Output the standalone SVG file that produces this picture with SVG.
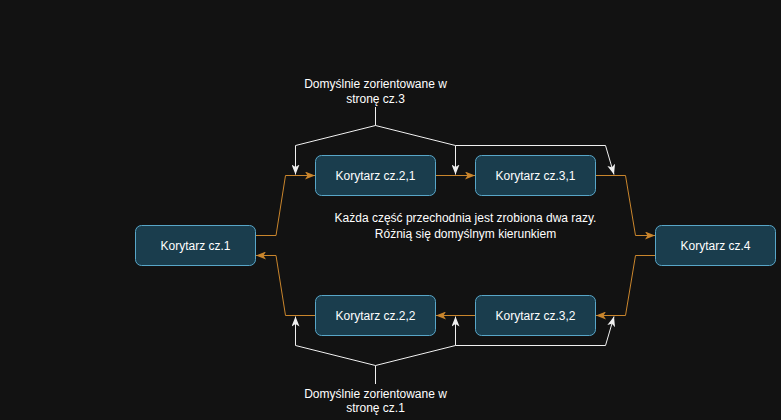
<svg xmlns="http://www.w3.org/2000/svg" width="781" height="420" viewBox="0 0 781 420">
<style>
.bg{fill:#121212}
.node rect{fill:#1a3d4d;stroke:#58a6c8;stroke-width:1}
.node text,.lbl{font-family:"Liberation Sans",Arial,sans-serif;font-size:12px;fill:#ffffff;text-anchor:middle}
.eo{fill:none;stroke:#c9852c;stroke-width:1}
.ew{fill:none;stroke:#f0f0f0;stroke-width:1}
</style>
<defs>
<marker id="ao" viewBox="0 0 10 8" markerUnits="userSpaceOnUse" markerWidth="10" markerHeight="8" refX="10" refY="4" orient="auto">
<path d="M0,0 L10,4 L0,8 L2.5,4 Z" fill="#c9852c"/>
</marker>
<marker id="aw" viewBox="0 0 10 8" markerUnits="userSpaceOnUse" markerWidth="10" markerHeight="8" refX="10" refY="4" orient="auto">
<path d="M0,0 L10,4 L0,8 L2.5,4 Z" fill="#f0f0f0"/>
</marker>
</defs>
<rect class="bg" x="0" y="0" width="781" height="420"/>
<g id="connectors">
<path class="eo" d="M256,235.5 L276,235.5 L285.5,175.5 L315,175.5" marker-end="url(#ao)"/>
<path class="eo" d="M436,175.5 L475,175.5" marker-end="url(#ao)"/>
<path class="eo" d="M596,175.5 L625.5,175.5 L635.5,235.5 L655,235.5" marker-end="url(#ao)"/>
<path class="eo" d="M655,255.5 L635.5,255.5 L625.5,315.5 L596,315.5" marker-end="url(#ao)"/>
<path class="eo" d="M475,315.5 L436,315.5" marker-end="url(#ao)"/>
<path class="eo" d="M315,315.5 L285.5,315.5 L276,255.5 L256,255.5" marker-end="url(#ao)"/>
<path class="ew" d="M375.5,107 L375.5,125.5 L295.5,145.5 L295.5,174.5" marker-end="url(#aw)"/>
<path class="ew" d="M375.5,125.5 L455.5,145.5 L455.5,174.5" marker-end="url(#aw)"/>
<path class="ew" d="M455.5,145.5 L605.5,145.5 L614,174.5" marker-end="url(#aw)"/>
<path class="ew" d="M375.5,384 L375.5,365.5 L295.5,345.5 L295.5,316.5" marker-end="url(#aw)"/>
<path class="ew" d="M375.5,365.5 L455.5,345.5 L455.5,316.5" marker-end="url(#aw)"/>
<path class="ew" d="M455.5,345.5 L605.5,345.5 L614,316.5" marker-end="url(#aw)"/>
</g>
<g id="n1" class="node"><rect x="135.5" y="225.5" width="120" height="40" rx="6"/><text x="195.5" y="249.5">Korytarz cz.1</text></g>
<g id="n21" class="node"><rect x="315.5" y="155.5" width="120" height="40" rx="6"/><text x="375.5" y="179.5">Korytarz cz.2,1</text></g>
<g id="n31" class="node"><rect x="475.5" y="155.5" width="120" height="40" rx="6"/><text x="535.5" y="179.5">Korytarz cz.3,1</text></g>
<g id="n4" class="node"><rect x="655.5" y="225.5" width="120" height="40" rx="6"/><text x="715.5" y="249.5">Korytarz cz.4</text></g>
<g id="n22" class="node"><rect x="315.5" y="295.5" width="120" height="40" rx="6"/><text x="375.5" y="319.5">Korytarz cz.2,2</text></g>
<g id="n32" class="node"><rect x="475.5" y="295.5" width="120" height="40" rx="6"/><text x="535.5" y="319.5">Korytarz cz.3,2</text></g>
<g id="labels">
<text class="lbl" x="375.5" y="88">Domyślnie zorientowane w</text>
<text class="lbl" x="375.5" y="102.5">stronę cz.3</text>
<text class="lbl" x="465.5" y="222">Każda część przechodnia jest zrobiona dwa razy.</text>
<text class="lbl" x="465.5" y="238">Różnią się domyślnym kierunkiem</text>
<text class="lbl" x="375.5" y="397.5">Domyślnie zorientowane w</text>
<text class="lbl" x="375.5" y="412">stronę cz.1</text>
</g>
</svg>
